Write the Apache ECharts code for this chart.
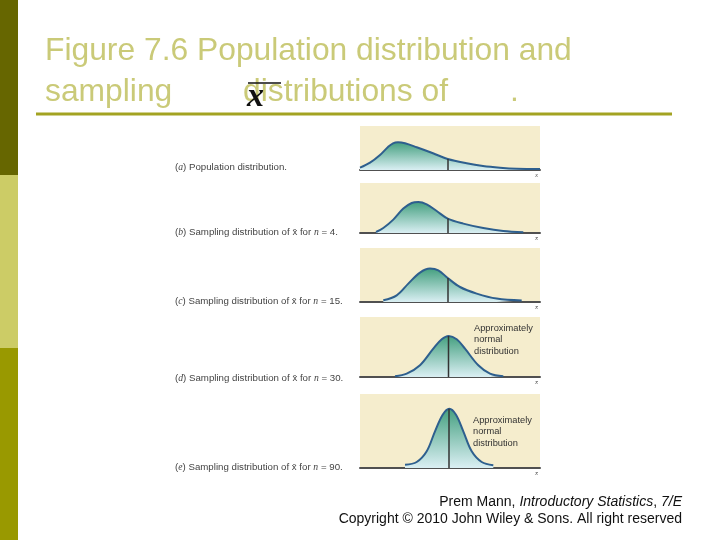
<!DOCTYPE html>
<html><head><meta charset="utf-8">
<script src="https://cdn.jsdelivr.net/npm/echarts@6/dist/echarts.min.js"></script>
<style>html,body{margin:0;padding:0;background:#fff}#c{width:720px;height:540px}</style>
</head><body><div id="c"></div>
<script>
// Curve samples: horizontal position on a common 0..180 scale, height above baseline
const panelA_x = [0, 10, 20, 28, 33, 38, 45, 56.7, 73, 87.7, 106.7, 123, 140, 156.7, 180];
const panelA_y = [2.3, 7.3, 15, 23, 26.7, 27.7, 26.7, 22.7, 16.7, 11, 6.7, 4, 2.3, 1.3, 1];
const panelB_x = [16, 23.3, 33.3, 43.3, 51.7, 58.3, 66.7, 76.7, 87.7, 103.3, 123.3, 143.3, 163.3];
const panelB_y = [1, 5, 13.4, 24.4, 30, 31, 28.7, 22, 14.4, 9.4, 5, 2, 0.7];
const panelC_x = [23.3, 36.7, 48.3, 60, 70, 78.3, 87.7, 100, 116.7, 136.7, 161.7];
const panelC_y = [1.7, 6.7, 18.4, 29.4, 33.4, 31.7, 24, 15, 8.4, 3.4, 1.4];
const panelD_x = [35, 46.7, 60, 73.3, 81.7, 88.7, 96.7, 105, 118.3, 130, 143.3];
const panelD_y = [0.7, 3.3, 11.7, 28.3, 37.7, 41, 37.7, 28.3, 11.7, 3.3, 0.7];
const panelE_x = [45, 56.7, 66.7, 75, 82.7, 89.3, 96, 103.3, 111.7, 121.7, 133.3];
const panelE_y = [3.3, 6, 16.7, 36.7, 53.3, 59.3, 53.3, 36.7, 16.7, 6, 2.7];
const meanX = [88, 88, 88, 88.5, 89];
const meanHeights = [11, 14.4, 24, 41, 59.3];
const panelMaxY = [44, 50, 54, 60, 74];
const captions = [
  ['(', 'a', ') Population distribution.'],
  ['(', 'b', ') Sampling distribution of x\u0304 for ', 'n', ' = 4.'],
  ['(', 'c', ') Sampling distribution of x\u0304 for ', 'n', ' = 15.'],
  ['(', 'd', ') Sampling distribution of x\u0304 for ', 'n', ' = 30.'],
  ['(', 'e', ') Sampling distribution of x\u0304 for ', 'n', ' = 90.']
];
const axisNames = ['x', 'x\u0304', 'x\u0304', 'x\u0304', 'x\u0304'];
const noteLines = ['Approximately', 'normal', 'distribution'];

const panelXs = [panelA_x, panelB_x, panelC_x, panelD_x, panelE_x];
const panelYs = [panelA_y, panelB_y, panelC_y, panelD_y, panelE_y];
const gridTops = [126, 183, 248, 317, 394];
const captionY = [167, 232, 301, 378, 467];

const grids = [], xAxes = [], yAxes = [], series = [], graphics = [];
const FONT = '"Liberation Sans", Arial, sans-serif';

for (let i = 0; i < 5; i++) {
  grids.push({left: 360, width: 180, top: gridTops[i], height: panelMaxY[i], show: true,
    backgroundColor: '#F5EDCD', borderWidth: 0});
  xAxes.push({gridIndex: i, type: 'value', min: 0, max: 180,
    axisLine: {show: true, onZero: false, lineStyle: {color: '#505050', width: 2}},
    axisTick: {show: false}, axisLabel: {show: false}, splitLine: {show: false}});
  yAxes.push({gridIndex: i, type: 'value', min: 0, max: panelMaxY[i], show: false, splitLine: {show: false}});
  series.push({type: 'line', xAxisIndex: i, yAxisIndex: i, smooth: 0.35, symbol: 'none', z: 3,
    data: panelXs[i].map((x, k) => [x, panelYs[i][k]]),
    lineStyle: {color: '#2E5F8E', width: 2},
    areaStyle: {opacity: 1, color: {type: 'linear', x: 0, y: 0, x2: 0, y2: 1,
      colorStops: [{offset: 0, color: '#45A080'}, {offset: 1, color: '#DAEFF3'}]}}});
  series.push({type: 'line', xAxisIndex: i, yAxisIndex: i, symbol: 'none', z: 4,
    data: [[meanX[i], 0], [meanX[i], meanHeights[i]]],
    lineStyle: {color: '#333333', width: 1.5}});
  const c = captions[i];
  let txt = '{r|' + c[0] + '}{i|' + c[1] + '}{r|' + c[2] + '}';
  if (c.length > 3) txt += '{i|' + c[3] + '}{r|' + c[4] + '}';
  graphics.push({type: 'text', left: 175, top: captionY[i] - 5,
    style: {text: txt, rich: {
      r: {fontFamily: FONT, fontSize: 9.7, fill: '#444'},
      i: {fontFamily: '"Liberation Serif", serif', fontStyle: 'italic', fontSize: 9.7, fill: '#444'}}}});
  graphics.push({type: 'text', left: 535, top: gridTops[i] + panelMaxY[i] + 2,
    style: {text: axisNames[i], fontFamily: '"Liberation Serif", serif', fontStyle: 'italic', fontSize: 7, fill: '#666'}});
}

// "Approximately normal distribution" notes
[[474, 323], [473, 415]].forEach(p => {
  graphics.push({type: 'text', left: p[0], top: p[1],
    style: {text: noteLines.join('\n'), fontFamily: FONT, fontSize: 9.3, lineHeight: 11.2, fill: '#333'}});
});

// Slide decoration: left bars, title, rule, footer
graphics.push({type: 'rect', shape: {x: 0, y: 0, width: 18, height: 175}, style: {fill: '#666600'}});
graphics.push({type: 'rect', shape: {x: 0, y: 175, width: 18, height: 173}, style: {fill: '#CCCC66'}});
graphics.push({type: 'rect', shape: {x: 0, y: 348, width: 18, height: 192}, style: {fill: '#999900'}});
graphics.push({type: 'line', shape: {x1: 36, y1: 114, x2: 672, y2: 114}, style: {stroke: '#A3A322', lineWidth: 3}});
const titleStyle = {fontFamily: FONT, fontSize: 31.8, fill: '#CACA78'};
graphics.push({type: 'text', left: 45, top: 35, style: Object.assign({text: 'Figure 7.6 Population distribution and'}, titleStyle)});
graphics.push({type: 'text', left: 45, top: 76, style: Object.assign({text: 'sampling'}, titleStyle)});
graphics.push({type: 'text', left: 243, top: 76, style: Object.assign({text: 'distributions of'}, titleStyle)});
graphics.push({type: 'text', left: 510, top: 76, style: Object.assign({text: '.'}, titleStyle)});
graphics.push({type: 'text', left: 247, top: 80, z: 10,
  style: {text: 'x', fontFamily: '"Liberation Serif", serif', fontStyle: 'italic', fontWeight: 'bold', fontSize: 34, fill: '#111'}});
graphics.push({type: 'line', z: 10, shape: {x1: 248, y1: 83, x2: 281, y2: 83}, style: {stroke: '#111', lineWidth: 1.5}});
graphics.push({type: 'text', right: 38, top: 495,
  style: {text: '{r|Prem Mann, }{i|Introductory Statistics}{r|, }{i|7/E}', rich: {
    r: {fontFamily: FONT, fontSize: 14, fill: '#111'},
    i: {fontFamily: FONT, fontStyle: 'italic', fontSize: 14, fill: '#111'}}}});
graphics.push({type: 'text', right: 38, top: 512,
  style: {text: 'Copyright \u00a9 2010 John Wiley & Sons. All right reserved', fontFamily: FONT, fontSize: 14, fill: '#111'}});

const chart = echarts.init(document.getElementById('c'));
chart.setOption({animation: false, backgroundColor: '#ffffff',
  grid: grids, xAxis: xAxes, yAxis: yAxes, series: series, graphic: graphics});
</script>
</body></html>
